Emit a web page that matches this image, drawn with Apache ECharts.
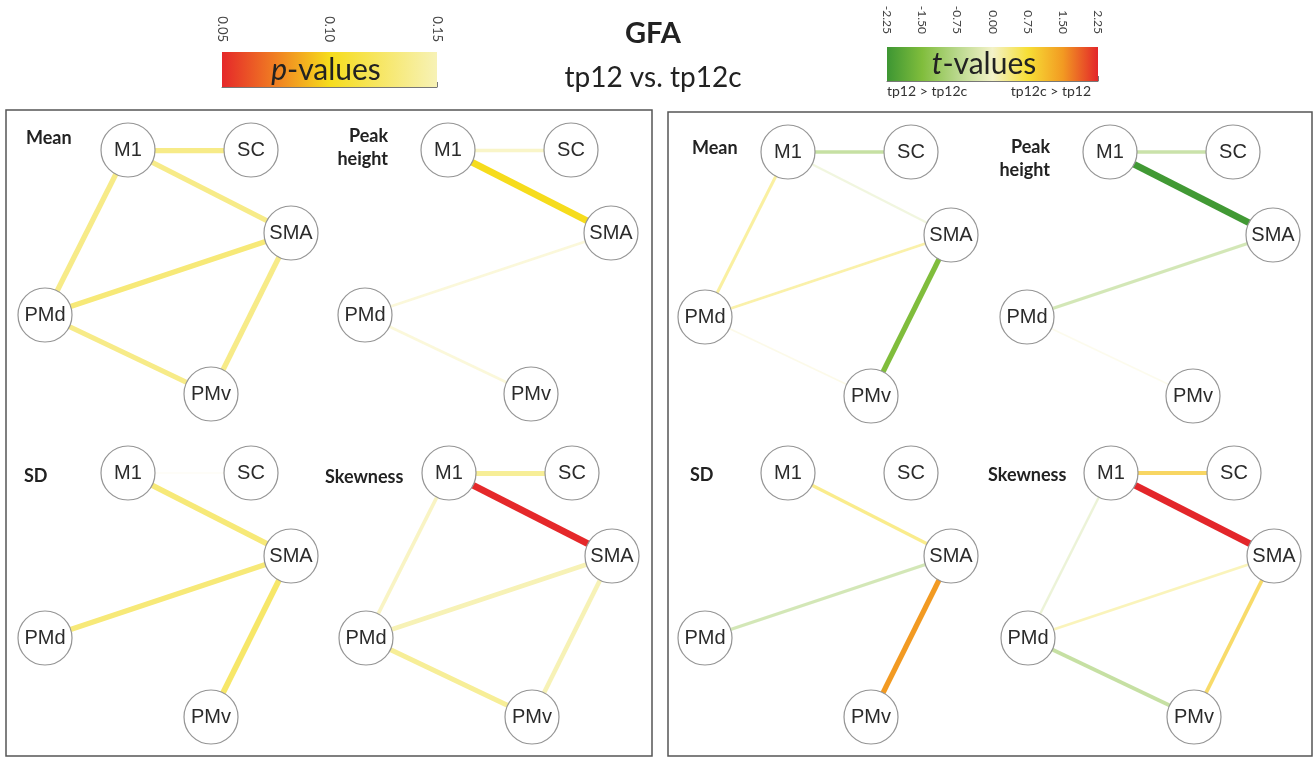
<!DOCTYPE html>
<html>
<head>
<meta charset="utf-8">
<script src="https://cdn.jsdelivr.net/npm/echarts@6/dist/echarts.min.js"></script>
<style>
  html, body { margin: 0; padding: 0; background: #fff; }
  #main { width: 1315px; height: 758px; }
</style>
</head>
<body>
<div id="main"></div>
<script>
// regions (nodes) and connections (edges) shown in every sub-graph
const regions = ["M1", "SC", "SMA", "PMd", "PMv"];
const edgePairs = [["M1", "SC"], ["M1", "SMA"], ["M1", "PMd"], ["SMA", "PMd"], ["SMA", "PMv"], ["PMd", "PMv"]];
const measures = ["Mean", "Peak\nheight", "SD", "Skewness"];

// p-values per edge (same order as edgePairs), null = no edge drawn
const pMean = [0.135, 0.135, 0.135, 0.13, 0.135, 0.135];
const pPeak = [0.17, 0.10, null, 0.19, null, 0.19];
const pSD = [0.22, 0.13, null, 0.13, 0.125, null];
const pSkew = [0.14, 0.05, 0.165, 0.15, 0.15, 0.14];

// t-values per edge
const tMean = [-0.9, -0.3, 0.6, 0.55, -1.5, 0.1];
const tPeak = [-0.85, -2.2, null, -0.75, null, 0.05];
const tSD = [null, 0.7, null, -0.75, 1.5, null];
const tSkew = [1.0, 2.25, -0.4, 0.45, 0.95, -0.9];

// colour bar ticks
const pTicks = [0.05, 0.10, 0.15];
const tTicks = [-2.25, -1.5, -0.75, 0, 0.75, 1.5, 2.25];

// colour scales
const pStops = [[0.05, "#e5282a"], [0.075, "#f07f22"], [0.10, "#f6dc1c"], [0.15, "#f7f2b6"]];
const tStops = [[-2.25, "#3d9633"], [-1.5, "#80bd3c"], [-0.75, "#b9d88c"], [0, "#f3f2c8"],
                [0.75, "#f7df36"], [1.5, "#f29a22"], [2.25, "#e3262a"]];

// node layout inside one sub-graph (relative to M1) and where each sub-graph sits
const nodeXY = { M1: [0, 0], SC: [123, 0], SMA: [163, 83], PMd: [-83, 165], PMv: [83, 244] };
const panelAnchor = [[128, 150], [448, 150], [128, 473], [449, 473],
                     [788, 152], [1110, 152], [788, 473], [1111, 473]];

function hex2rgb(h) {
  return [parseInt(h.slice(1, 3), 16), parseInt(h.slice(3, 5), 16), parseInt(h.slice(5, 7), 16)];
}
function colorAt(stops, v) {
  if (v <= stops[0][0]) return stops[0][1];
  for (let i = 1; i < stops.length; i++) {
    if (v <= stops[i][0]) {
      const f = (v - stops[i - 1][0]) / (stops[i][0] - stops[i - 1][0]);
      const a = hex2rgb(stops[i - 1][1]), b = hex2rgb(stops[i][1]);
      return "rgb(" + a.map((c, k) => Math.round(c + (b[k] - c) * f)).join(",") + ")";
    }
  }
  return stops[stops.length - 1][1];
}
function gradient(stops) {
  const lo = stops[0][0], hi = stops[stops.length - 1][0];
  return new echarts.graphic.LinearGradient(0, 0, 1, 0,
    stops.map(s => ({ offset: (s[0] - lo) / (hi - lo), color: s[1] })));
}

// edge style from p / t value
function pStyle(p) {
  const w = p <= 0.10 ? 7 : 7 - 50 * (p - 0.10);
  const o = p <= 0.15 ? 1 : Math.max(0.1, 1 - (p - 0.15) / 0.08);
  return { color: colorAt(pStops, p), width: Math.max(1.5, w), opacity: o };
}
function tStyle(t) {
  const a = Math.abs(t);
  return { color: colorAt(tStops, t), width: 1.5 + 5.5 * a / 2.25, opacity: Math.min(1, 0.25 + 0.75 * a / 1.5) };
}

function graphSeries(idx, values, styleOf) {
  const [ax, ay] = panelAnchor[idx];
  return {
    type: "graph",
    layout: "none",
    left: ax - 83, top: ay, width: 246, height: 244,
    roam: false,
    silent: true,
    symbol: "circle",
    symbolSize: 54,
    itemStyle: { color: "#fff", borderColor: "#959595", borderWidth: 1.2 },
    label: { show: true, position: "inside", color: "#2b2b2b", fontSize: 20, fontFamily: "Liberation Sans" },
    emphasis: { disabled: true },
    data: regions.map(n => ({ name: n, x: nodeXY[n][0], y: nodeXY[n][1] })),
    links: edgePairs
      .map((pr, k) => values[k] == null ? null
        : { source: pr[0], target: pr[1], value: values[k], lineStyle: Object.assign({ curveness: 0 }, styleOf(values[k])) })
      .filter(Boolean)
  };
}

function colorBarSeries(gridIdx, stops) {
  return {
    type: "custom",
    xAxisIndex: gridIdx, yAxisIndex: gridIdx,
    silent: true,
    data: [[stops[0][0], stops[stops.length - 1][0]]],
    renderItem: (params, api) => {
      const a = api.coord([api.value(0), 1]);
      const b = api.coord([api.value(1), 0]);
      return { type: "rect", shape: { x: a[0], y: a[1], width: b[0] - a[0], height: b[1] - a[1] },
               style: { fill: gradient(stops) } };
    }
  };
}

function barAxis(gridIdx, ticks, fontSize, margin) {
  return {
    type: "value", gridIndex: gridIdx, position: "top",
    min: ticks[0], max: ticks[ticks.length - 1],
    splitLine: { show: false },
    axisLine: { show: true, lineStyle: { color: "#777", width: 1 } },
    axisTick: { show: true, length: 5, customValues: ticks, lineStyle: { color: "#777" } },
    axisLabel: { rotate: -90, margin: margin, fontSize: fontSize, color: "#444", fontFamily: "Lato",
                 customValues: ticks, formatter: v => v.toFixed(2) }
  };
}

const labelPos = [
  { x: 26, y: 138, align: "left" }, { x: 388, y: 148, align: "right" },
  { x: 24, y: 476, align: "left" }, { x: 325, y: 477, align: "left" },
  { x: 692, y: 148, align: "left" }, { x: 1050, y: 159, align: "right" },
  { x: 690, y: 475, align: "left" }, { x: 988, y: 475, align: "left" }
];

const chartDom = document.getElementById("main");
const myChart = echarts.init(chartDom);

const valuesText = (sym) => ({
  text: "{i|" + sym + "}{n|-values}", align: "center", verticalAlign: "middle",
  rich: { i: { font: "italic 30px Lato", fill: "#222" }, n: { font: "30px Lato", fill: "#222" } }
});

const graphic = [
  { type: "rect", shape: { x: 6, y: 110, width: 646, height: 646 }, style: { fill: "none", stroke: "#555", lineWidth: 1.5 } },
  { type: "rect", shape: { x: 668, y: 112, width: 644, height: 644 }, style: { fill: "none", stroke: "#555", lineWidth: 1.5 } },
  { type: "text", x: 653, y: 34, style: { text: "GFA", font: "bold 29px Lato", fill: "#222", align: "center", verticalAlign: "middle" } },
  { type: "text", x: 653, y: 78, style: { text: "tp12 vs. tp12c", font: "28px Lato", fill: "#222", align: "center", verticalAlign: "middle" } },
  { type: "text", x: 326, y: 70, z: 10, style: valuesText("p") },
  { type: "text", x: 984, y: 64, z: 10, style: valuesText("t") },
  { type: "text", x: 887, y: 91, style: { text: "tp12 > tp12c", font: "14px Lato", fill: "#333", align: "left", verticalAlign: "middle" } },
  { type: "text", x: 1091, y: 91, style: { text: "tp12c > tp12", font: "14px Lato", fill: "#333", align: "right", verticalAlign: "middle" } }
];
labelPos.forEach((lp, i) => {
  graphic.push({ type: "text", x: lp.x, y: lp.y,
    style: { text: measures[i % 4], font: "bold 18px Lato", lineHeight: 23, fill: "#222", align: lp.align, verticalAlign: "middle" } });
});

const option = {
  animation: false,
  backgroundColor: "#fff",
  grid: [
    { left: 222, top: 52, width: 215, height: 35 },
    { left: 887, top: 47, width: 211, height: 34 }
  ],
  xAxis: [barAxis(0, pTicks, 13, 10), barAxis(1, tTicks, 12, 13)],
  yAxis: [
    { type: "value", gridIndex: 0, min: 0, max: 1, show: false },
    { type: "value", gridIndex: 1, min: 0, max: 1, show: false }
  ],
  graphic: graphic,
  series: [
    colorBarSeries(0, pStops),
    colorBarSeries(1, tStops),
    graphSeries(0, pMean, pStyle),
    graphSeries(1, pPeak, pStyle),
    graphSeries(2, pSD, pStyle),
    graphSeries(3, pSkew, pStyle),
    graphSeries(4, tMean, tStyle),
    graphSeries(5, tPeak, tStyle),
    graphSeries(6, tSD, tStyle),
    graphSeries(7, tSkew, tStyle)
  ]
};
option && myChart.setOption(option);
</script>
</body>
</html>
